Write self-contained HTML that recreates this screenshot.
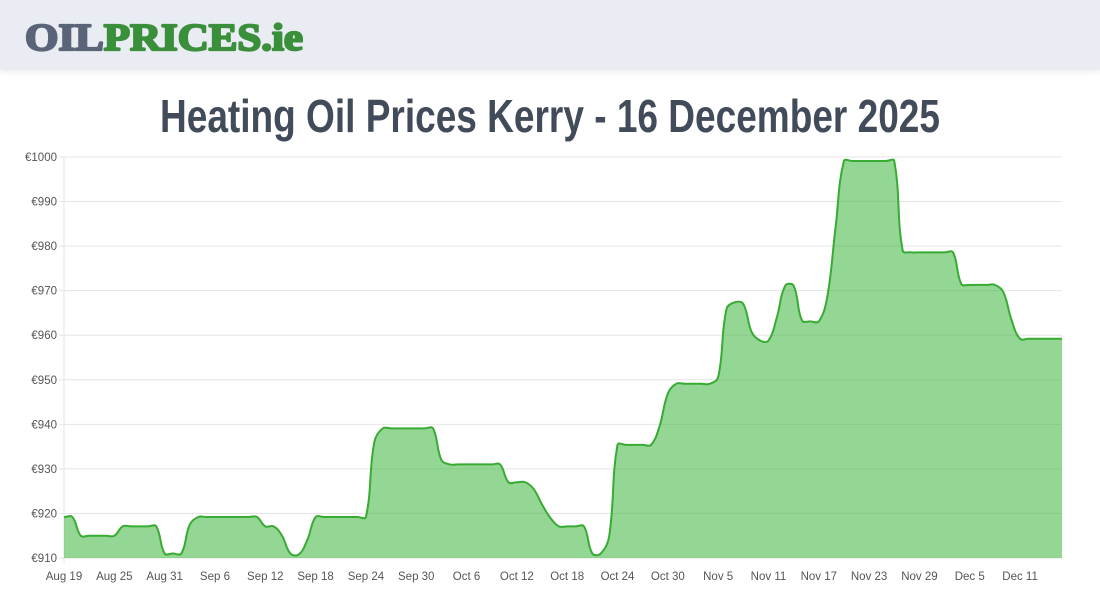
<!DOCTYPE html>
<html><head><meta charset="utf-8"><style>
html,body{margin:0;padding:0;background:#fff;width:1100px;height:600px;overflow:hidden;font-family:"Liberation Sans",sans-serif}
#hdr{position:absolute;left:0;top:0;width:1100px;height:70px;background:#e9ecf3;box-shadow:0 2px 6px rgba(0,0,0,0.08)}
svg{position:absolute;left:0;top:0}
</style></head><body>
<div id="hdr">
<svg width="330" height="70"><text x="25" y="50" font-family="Liberation Serif,serif" font-weight="bold" font-size="38" textLength="278" lengthAdjust="spacingAndGlyphs" stroke-width="2.2" stroke-linejoin="round"><tspan fill="#5a6478" stroke="#5a6478">OIL</tspan><tspan fill="#3a8f3a" stroke="#3a8f3a">PRICES.ie</tspan></text></svg>
</div>
<svg id="chart" width="1100" height="600" style="top:0">
<text x="160" y="132" font-family="Liberation Sans Narrow,Liberation Sans,sans-serif" font-weight="bold" font-size="46" fill="#414b5a" textLength="780" lengthAdjust="spacingAndGlyphs">Heating Oil Prices Kerry - 16 December 2025</text>
<g id="grid"></g><g id="series"></g><g id="labels"></g>
</svg>
<script>
const yTicks=[910,920,930,940,950,960,970,980,990,1000];
const xTickLabels=["Aug 19","Aug 25","Aug 31","Sep 6","Sep 12","Sep 18","Sep 24","Sep 30","Oct 6","Oct 12","Oct 18","Oct 24","Oct 30","Nov 5","Nov 11","Nov 17","Nov 23","Nov 29","Dec 5","Dec 11"];
const prices=[919.2,919.2,915,915,915,915,915,917.1,917.1,917.1,917.1,917.1,911,911,911,917.5,919.2,919.2,919.2,919.2,919.2,919.2,919.2,919.2,917.1,917.1,915,911,910.8,914,919.2,919.2,919.2,919.2,919.2,919.2,919.2,936,939.1,939.1,939.1,939.1,939.1,939.1,939.1,932,931,931,931,931,931,931,931,927,927,927,925.5,922,919,917.1,917.1,917.1,917.1,911,911,914.8,935.4,935.4,935.4,935.4,935.4,939.5,946.9,949.1,949.1,949.1,949.1,949.1,950.6,965.9,967.4,967,960.7,958.8,958.8,964,971.1,971.1,963.3,963.1,963.1,968.5,984.2,999.1,999.1,999.1,999.1,999.1,999.1,999.1,979,978.6,978.6,978.6,978.6,978.6,978.6,971.5,971.3,971.3,971.3,971.3,969.7,963.3,959.2,959.2,959.2,959.2,959.2,959.2];
const NS="http://www.w3.org/2000/svg";
const L=64,R=1062,T=157,B=558,yMin=910,yMax=1000;
const nDays=119;
const xs=d=>L+(R-L)*d/nDays;
const ys=v=>B-(B-T)*(v-yMin)/(yMax-yMin);
function mk(tag,attrs,parent){const e=document.createElementNS(NS,tag);for(const k in attrs)e.setAttribute(k,attrs[k]);parent.appendChild(e);return e;}
const grid=document.getElementById('grid'),lab=document.getElementById('labels'),ser=document.getElementById('series');
yTicks.forEach(v=>{
 const g=mk('line',{x1:L-5,x2:R,y1:ys(v),y2:ys(v),stroke:'#e4e4e4','stroke-width':1},grid);
 
 
 const t=mk('text',{x:L-7,y:ys(v)+4,'text-anchor':'end','font-size':11.5,fill:'#555'},lab);
 t.textContent='€'+v;
 
 
});
mk('line',{x1:L,x2:L,y1:T,y2:B+5,stroke:'#e4e4e4'},grid);
xTickLabels.forEach((s,i)=>{
 const t=mk('text',{x:xs(i*6),y:580,'text-anchor':'middle','font-size':11.5,fill:'#555'},lab);
 t.textContent=s;
 
 
});
const pts=prices.map((v,i)=>[xs(i),ys(v)]);
const ten=0.4;const cps=[];
for(let i=0;i<pts.length;i++){
 const p0=pts[Math.max(0,i-1)],p1=pts[i],p2=pts[Math.min(pts.length-1,i+1)];
 const d01=Math.hypot(p1[0]-p0[0],p1[1]-p0[1]),d12=Math.hypot(p2[0]-p1[0],p2[1]-p1[1]);
 let s01=d01/(d01+d12||1),s12=d12/(d01+d12||1);
 const fa=ten*s01,fb=ten*s12;
 cps.push({px:p1[0]-fa*(p2[0]-p0[0]),py:p1[1]-fa*(p2[1]-p0[1]),nx:p1[0]+fb*(p2[0]-p0[0]),ny:p1[1]+fb*(p2[1]-p0[1])});
}
let d='M'+pts[0][0]+','+pts[0][1];
for(let i=1;i<pts.length;i++){d+=' C'+cps[i-1].nx+','+cps[i-1].ny+' '+cps[i].px+','+cps[i].py+' '+pts[i][0]+','+pts[i][1];}
const cp=mk('clipPath',{id:'clip'},ser);
mk('rect',{x:L,y:T-2,width:R-L,height:B-T+2},cp);
const area=mk('path',{d:d+' L'+R+','+B+' L'+L+','+B+' Z',fill:'rgba(76,187,76,0.6)','clip-path':'url(#clip)'},ser);


const line=mk('path',{d:d,fill:'none',stroke:'#38ab33','stroke-width':2,'clip-path':'url(#clip)'},ser);


</script>
</body></html>
